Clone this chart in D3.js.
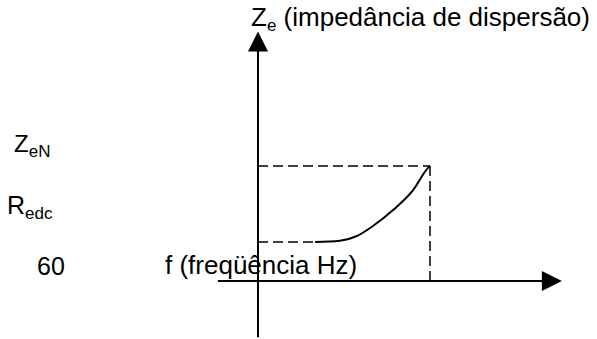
<!DOCTYPE html>
<html><head><meta charset="utf-8">
<script src="https://cdn.jsdelivr.net/npm/d3@7"></script>
<style>body{margin:0;background:#fff}svg{display:block}text{font-family:Arial,"Liberation Sans",sans-serif;fill:#000}</style>
</head><body>
<svg id="c" width="597" height="339"></svg>
<script>
// data (arbitrary units: f in Hz, Z relative to Redc)
const curveF = [19.9, 28.6, 34.5, 40.1, 47.1, 54.1, 59.3, 60];
const curveZ = [1.0, 1.033, 1.154, 1.41, 1.82, 2.33, 2.90, 2.95];
const fN = 60;
const Redc = 1.0;
const ZeN = 2.95;
const xDomain = [-14, 106];
const yDomain = [-1.44, 6.4];

const svg = d3.select("#c");
const x = d3.scaleLinear().domain([0, fN]).range([258, 430]);
const y = d3.scaleLinear().domain([0, Redc]).range([281, 242]);

// axes
svg.append("line").attr("x1", x(xDomain[0])).attr("x2", x(xDomain[1]) - 19)
  .attr("y1", y(0)).attr("y2", y(0)).attr("stroke", "#000").attr("stroke-width", 2);
svg.append("path").attr("d", `M${x(xDomain[1])},${y(0)} L${x(xDomain[1]) - 20},${y(0) - 10} L${x(xDomain[1]) - 20},${y(0) + 10} Z`).attr("fill", "#000");
svg.append("line").attr("x1", x(0)).attr("x2", x(0))
  .attr("y1", y(yDomain[0])).attr("y2", y(yDomain[1]) + 19).attr("stroke", "#000").attr("stroke-width", 2);
svg.append("path").attr("d", `M${x(0)},${y(yDomain[1])} L${x(0) - 10},${y(yDomain[1]) + 20} L${x(0) + 10},${y(yDomain[1]) + 20} Z`).attr("fill", "#000");

// dashed guides
const dash = "10,5";
svg.append("line").attr("x1", x(0)).attr("x2", x(fN)).attr("y1", y(ZeN)).attr("y2", y(ZeN))
  .attr("stroke", "#000").attr("stroke-width", 1.5).attr("stroke-dasharray", dash);
svg.append("line").attr("x1", x(fN)).attr("x2", x(fN)).attr("y1", y(ZeN)).attr("y2", y(0))
  .attr("stroke", "#000").attr("stroke-width", 1.5).attr("stroke-dasharray", dash);
svg.append("line").attr("x1", x(0)).attr("x2", x(curveF[0])).attr("y1", y(Redc)).attr("y2", y(Redc))
  .attr("stroke", "#000").attr("stroke-width", 1.5).attr("stroke-dasharray", dash);

// curve
const pts = curveF.map((f, i) => [f, curveZ[i]]);
svg.append("path").datum(pts)
  .attr("d", d3.line().x(d => x(d[0])).y(d => y(d[1])).curve(d3.curveMonotoneX))
  .attr("fill", "none").attr("stroke", "#000").attr("stroke-width", 2);

// labels
function lbl(px, py, size, main, sub, subSize, rest) {
  const t = svg.append("text").attr("x", px).attr("y", py).attr("font-size", size);
  t.append("tspan").text(main);
  if (sub) t.append("tspan").attr("font-size", subSize).attr("dy", 5).text(sub);
  if (rest) t.append("tspan").attr("dy", sub ? -5 : 0).text(rest);
}
lbl(251, 26, 26, "Z", "e", 17, " (impedância de dispersão)");
lbl(14, 152, 24, "Z", "eN", 17);
lbl(7, 214, 25, "R", "edc", 17);
lbl(37, 275, 25, "60");
lbl(165, 274, 26, "f (freqüência Hz)");
</script>
</body></html>
